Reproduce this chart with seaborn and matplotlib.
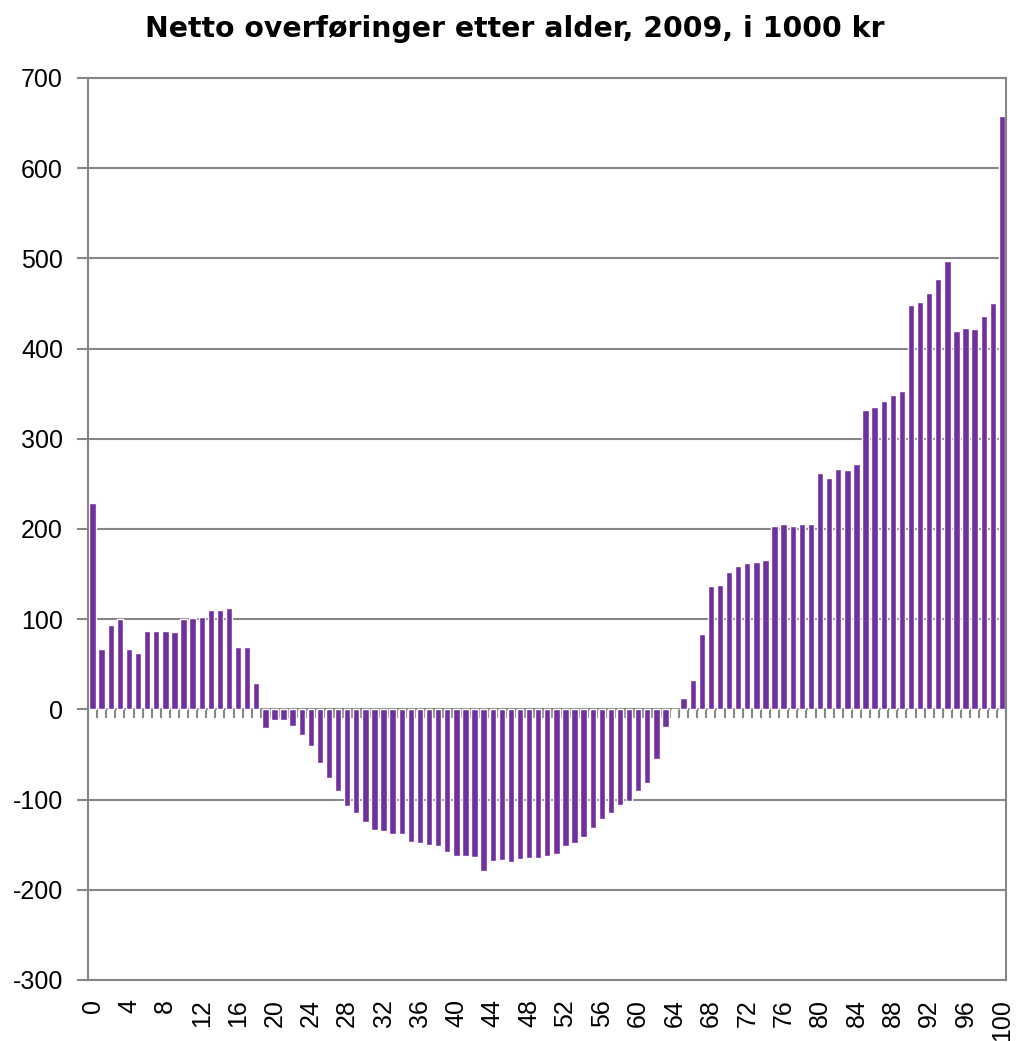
import matplotlib
matplotlib.use('Agg')
import matplotlib.pyplot as plt
import numpy as np
import pandas as pd
import seaborn as sns

# Netto overføringer etter alder, 2009 (1000 kr)
ages = list(range(0, 101))
net_transfers = [
    229, 67, 94, 100, 67, 63, 87, 87, 87, 86,
    100, 101, 102, 110, 110, 112, 69, 69, 29, -21,
    -12, -12, -18, -28, -41, -59, -76, -91, -107, -115,
    -125, -134, -135, -138, -138, -147, -148, -150, -152, -158,
    -162, -163, -164, -179, -168, -167, -169, -166, -165, -165,
    -163, -160, -152, -148, -141, -131, -122, -115, -106, -102,
    -91, -82, -55, -19, 0, 13, 33, 84, 137, 138,
    152, 159, 162, 163, 166, 203, 206, 203, 205, 205,
    262, 257, 267, 265, 272, 332, 335, 342, 348, 353,
    448, 452, 462, 477, 497, 420, 423, 422, 436, 450,
    658,
]
y_ticks = list(range(-300, 701, 100))
x_tick_ages = list(range(0, 101, 4))
title = 'Netto overføringer etter alder, 2009, i 1000 kr'

grid_color = '#868686'
bar_color = '#7030A0'


def plot_net_transfers(df):
    sns.set_style('white')
    plt.rcParams['font.family'] = ['Liberation Sans', 'DejaVu Sans']
    plt.rcParams['text.color'] = 'black'
    plt.rcParams['xtick.color'] = 'black'
    plt.rcParams['ytick.color'] = 'black'

    fig = plt.figure(figsize=(10.19, 10.41), dpi=100)
    ax = fig.add_axes([0.0864, 0.0586, 0.9013, 0.8665])

    # Gridlines behind the bars
    for val in y_ticks:
        ax.axhline(val, color=grid_color, linewidth=1.5, zorder=0)

    sns.barplot(data=df, x='Alder', y='Netto', color=bar_color, width=0.7,
                saturation=1, ax=ax, zorder=2)

    # Small category ticks hanging under the zero line
    bounds = np.arange(-0.5, len(df), 1.0)
    ax.vlines(bounds, -10, 0, color=grid_color, linewidth=1.5, zorder=1)

    ax.set_xlim(-0.5, len(df) - 0.5)
    ax.set_ylim(min(y_ticks), max(y_ticks))
    ax.set_yticks(y_ticks)
    ax.set_yticklabels([str(v) for v in y_ticks], fontsize=18)
    ax.set_xticks([df.index[df['Alder'] == a][0] for a in x_tick_ages])
    ax.set_xticklabels([str(a) for a in x_tick_ages], rotation=90, fontsize=18)
    ax.tick_params(axis='y', length=8, width=1.5, color=grid_color,
                   labelcolor='black', pad=10, left=True)
    ax.tick_params(axis='x', length=0, pad=14, labelcolor='black')
    ax.set_xlabel('')
    ax.set_ylabel('')

    for side in ['left', 'right', 'top', 'bottom']:
        ax.spines[side].set_visible(True)
        ax.spines[side].set_color(grid_color)
        ax.spines[side].set_linewidth(1.5)

    fig.suptitle(title, fontsize=20.4, fontweight='bold', family='DejaVu Sans',
                 color='black', x=0.505, y=0.972, va='center')

    fig.savefig('out.png', dpi=100, facecolor='white')


df = pd.DataFrame({'Alder': ages, 'Netto': net_transfers})
plot_net_transfers(df)
